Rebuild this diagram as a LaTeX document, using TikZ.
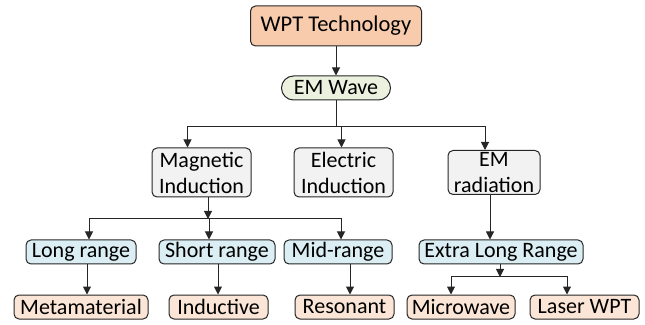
\documentclass[tikz,border=0pt]{standalone}
\usepackage{fontspec}
\setmainfont{Carlito}
\usepackage{xcolor}
\definecolor{peach}{HTML}{F8CBAD}
\definecolor{palegreen}{HTML}{EBF1DE}
\definecolor{lightgray}{HTML}{F2F2F2}
\definecolor{paleblue}{HTML}{DAEEF3}
\definecolor{lightpeach}{HTML}{FBE5D6}
\definecolor{edge}{HTML}{262626}
\usepackage{tikz}
\usetikzlibrary{arrows.meta, positioning, calc}

\begin{document}
\begin{tikzpicture}[x=1pt, y=1pt, >={Triangle[length=8pt,width=8pt]},
  box/.style={draw=edge, line width=1pt, rounded corners=5pt, inner sep=0pt,
              minimum height=24pt, align=center,
              font=\fontsize{22}{26}\selectfont},
  conn/.style={->, line width=1pt, draw=edge}]

  \useasboundingbox (0,0) rectangle (645,324);

  % WPT Technology
  \node[box, fill=peach, minimum width=171pt, minimum height=40pt,
        font=\fontsize{22.5}{26}\selectfont] (wpt) at (336,298)
        {WPT Technology};

  \node[box, fill=palegreen, minimum width=109pt, rounded corners=12pt,
        below=29pt of wpt] (emwave)
        {EM Wave};

  % Induction / radiation
  \node[box, fill=lightgray, minimum width=99pt, minimum height=49pt] (magnetic)
        at (201.5,151.5) {Magnetic\\Induction};

  \node[box, fill=lightgray, minimum width=99pt, minimum height=49pt,
        right=42pt of magnetic] (electric)
        {Electric\\Induction};

  \node[box, fill=lightgray, minimum width=92pt, minimum height=44pt,
        right=54pt of electric] (emrad)
        {EM\\radiation};

  % Ranges
  \node[box, fill=paleblue, minimum width=110pt] (longrange) at (81,72) {Long range};
  \node[box, fill=paleblue, minimum width=116pt, right=22pt of longrange] (shortrange) {Short range};
  \node[box, fill=paleblue, minimum width=108pt, right=8pt of shortrange] (midrange) {Mid-range};
  \node[box, fill=paleblue, minimum width=164pt, right=26pt of midrange] (extralong) {Extra Long Range};

  % Methods
  \node[box, fill=lightpeach, minimum width=134pt, below=30pt of longrange] (metamaterial) {Metamaterial};
  \node[box, fill=lightpeach, minimum width=99pt, right=20pt of metamaterial] (inductive) {Inductive};
  \node[box, fill=lightpeach, minimum width=99pt, right=26pt of inductive] (resonant) {Resonant};
  \node[box, fill=lightpeach, minimum width=108pt, right=12pt of resonant] (microwave) {Microwave};
  \node[box, fill=lightpeach, minimum width=109pt, right=14pt of microwave] (laser) {Laser WPT};

  % connectors
  \draw[conn] (wpt) -- (emwave);

  \coordinate (wavesplit) at ($(emwave.south)+(0,-26)$);
  \draw[line width=1pt, edge] (emwave.south) -- (wavesplit);
  \draw[conn] (wavesplit) -| ([xshift=-14pt]magnetic.north);
  \draw[conn] (wavesplit) -| ([xshift=-2pt]electric.north);
  \draw[conn] (wavesplit) -| ([xshift=-9pt]emrad.north);

  \coordinate (magsplit) at (208,105);
  \draw[conn] (magnetic.south -| magsplit) -- (magsplit);
  \draw[conn] (magsplit) -| ([xshift=8pt]longrange.north);
  \draw[conn] (magsplit) -| ([xshift=-8pt]shortrange.north);
  \draw[conn] (magsplit) -| ([xshift=3pt]midrange.north);

  \draw[conn] ([xshift=-4pt]emrad.south) -- ([xshift=-4pt]emrad.south |- extralong.north);

  \draw[conn] ([xshift=6pt]longrange.south) -- ([xshift=6pt]longrange.south |- metamaterial.north);
  \draw[conn] ([xshift=1pt]shortrange.south) -- ([xshift=1pt]shortrange.south |- inductive.north);
  \draw[conn] ([xshift=12pt]midrange.south) -- ([xshift=12pt]midrange.south |- resonant.north);

  \coordinate (rangesplit) at (500,47);
  \draw[conn] (extralong.south -| rangesplit) -- (rangesplit);
  \draw[conn] (rangesplit) -| ([xshift=-10pt]microwave.north);
  \draw[conn] (rangesplit) -| ([xshift=-17.5pt]laser.north);

\end{tikzpicture}
\end{document}
